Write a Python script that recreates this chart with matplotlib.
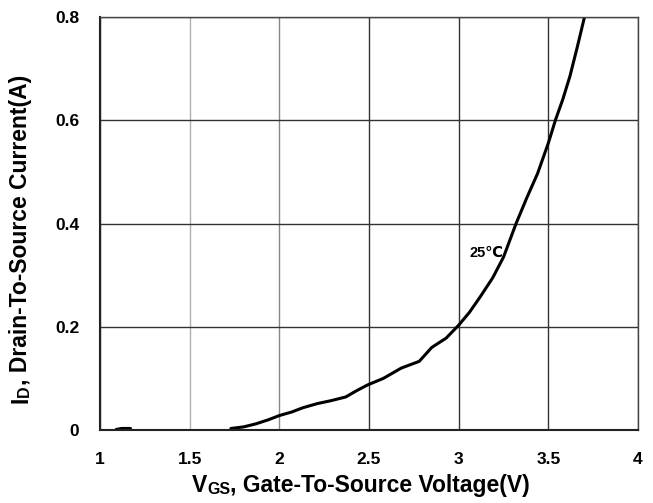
import matplotlib.pyplot as plt

plt.rcParams['font.family'] = ['Liberation Sans', 'DejaVu Sans']
plt.rcParams['font.weight'] = 'bold'

# curve, Vgs (V) vs Id (A) at 25C
vgs = [1.73, 1.80, 1.87, 1.94, 2.00, 2.07, 2.13, 2.21, 2.29, 2.37, 2.43, 2.49,
       2.58, 2.68, 2.78, 2.85, 2.93, 3.00, 3.06, 3.12, 3.19, 3.25, 3.32, 3.38,
       3.44, 3.50, 3.54, 3.58, 3.62, 3.66, 3.70]
i_d = [0.003, 0.006, 0.012, 0.020, 0.028, 0.035, 0.043, 0.051, 0.057, 0.064, 0.076, 0.087,
       0.100, 0.120, 0.133, 0.160, 0.178, 0.203, 0.228, 0.258, 0.295, 0.335, 0.400, 0.450,
       0.497, 0.556, 0.601, 0.640, 0.685, 0.740, 0.798]
# short stub near 1.1 V
stub_v = [1.09, 1.12, 1.17]
stub_i = [0.001, 0.003, 0.003]

xticks = [1, 1.5, 2, 2.5, 3, 3.5, 4]
xtick_labels = ['1', '1.5', '2', '2.5', '3', '3.5', '4']
yticks = [0, 0.2, 0.4, 0.6, 0.8]
ytick_labels = ['0', '0.2', '0.4', '0.6', '0.8']

fig = plt.figure(figsize=(6.53, 5.03), dpi=100)
ax = fig.add_axes([0.1531, 0.1451, 0.824, 0.8211])

ax.plot(vgs, i_d, color='black', lw=2.2, solid_capstyle='round')
ax.plot(stub_v, stub_i, color='black', lw=2.2, solid_capstyle='round')
ax.text(3.155, 0.343, '25℃', fontsize=10.5, fontweight='bold', ha='center', va='center')

ax.set_xlim(1, 4)
ax.set_ylim(0, 0.8)
ax.set_xticks(xticks)
ax.set_xticklabels(xtick_labels)
ax.set_yticks(yticks)
ax.set_yticklabels(ytick_labels)
ax.tick_params(length=0, labelsize=12.5)
ax.tick_params(axis='x', pad=16)
ax.tick_params(axis='y', pad=15)
for lab in ax.get_xticklabels() + ax.get_yticklabels():
    lab.set_fontweight('bold')

ax.grid(True, color='#333333', lw=1)
ax.set_axisbelow(True)
xgl = ax.get_xgridlines()
xgl[1].set_color('#b0b0b0')
xgl[2].set_color('#888888')
for s in ax.spines.values():
    s.set_color('#444444')
    s.set_linewidth(1)
ax.spines['left'].set_color('#222222')
ax.spines['bottom'].set_color('#222222')
ax.spines['left'].set_linewidth(1.5)
ax.spines['bottom'].set_linewidth(1.5)

# x label: V + small GS + rest
t1 = fig.text(0.294, 0.012, 'V', fontsize=16.5, fontweight='bold', va='bottom')
t2 = ax.annotate('GS', xy=(1, 0), xycoords=t1, fontsize=11.5, fontweight='bold',
                 va='bottom', annotation_clip=False)
ax.annotate(', Gate-To-Source Voltage(V)', xy=(1, 0), xycoords=t2, fontsize=16.5,
            fontweight='bold', va='bottom', annotation_clip=False)

# y label: I + small D + rest (rotated)
u1 = fig.text(0.014, 0.198, 'I', fontsize=16.5, fontweight='bold', rotation=90,
              ha='left', va='bottom')
u2 = ax.annotate('D', xy=(1, 1), xycoords=u1, fontsize=11.5, fontweight='bold',
                 rotation=90, ha='right', va='bottom', annotation_clip=False)
ax.annotate(', Drain-To-Source Current(A)', xy=(1, 1), xycoords=u2, fontsize=16.5,
            fontweight='bold', rotation=90, ha='right', va='bottom',
            annotation_clip=False)

fig.savefig('out.png', dpi=100)
